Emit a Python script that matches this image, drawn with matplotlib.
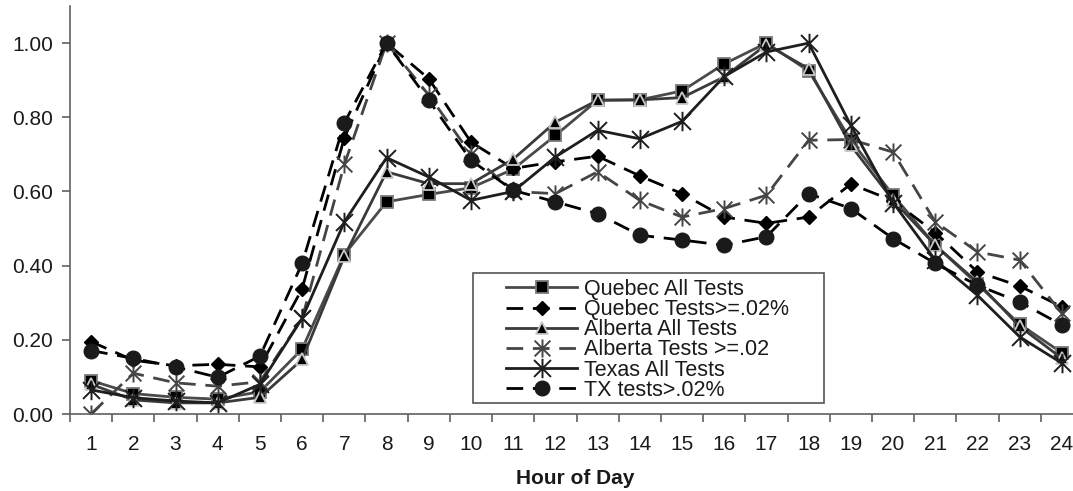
import matplotlib
matplotlib.use("Agg")
import matplotlib.pyplot as plt
from matplotlib.path import Path
from matplotlib.patches import Rectangle
import numpy as np

plt.rcParams['font.family'] = ['Liberation Sans', 'DejaVu Sans']

# Hour of day (categories)
hours = list(range(1, 25))

# Normalised hourly test counts per series
quebec_all = [0.09, 0.055, 0.045, 0.04, 0.06, 0.175, 0.43, 0.572, 0.592, 0.61, 0.66, 0.751,
              0.846, 0.847, 0.871, 0.944, 1.00, 0.925, 0.738, 0.59, 0.455, 0.350, 0.242, 0.165]
quebec_02 = [0.195, 0.145, 0.13, 0.134, 0.127, 0.338, 0.745, 1.00, 0.904, 0.733, 0.662, 0.680,
             0.695, 0.642, 0.594, 0.531, 0.514, 0.531, 0.620, 0.575, 0.489, 0.383, 0.345, 0.289]
alberta_all = [0.08, 0.038, 0.030, 0.030, 0.045, 0.147, 0.425, 0.653, 0.621, 0.621, 0.687, 0.787,
               0.846, 0.847, 0.853, 0.909, 0.996, 0.931, 0.724, 0.576, 0.455, 0.355, 0.236, 0.15]
alberta_02 = [0.0, 0.110, 0.084, 0.075, 0.087, 0.258, 0.673, 1.00, 0.86, 0.70, 0.60, 0.594,
              0.653, 0.576, 0.531, 0.554, 0.590, 0.738, 0.740, 0.706, 0.518, 0.437, 0.415, 0.271]
texas_all = [0.065, 0.044, 0.035, 0.030, 0.080, 0.258, 0.518, 0.691, 0.639, 0.576, 0.600, 0.693,
             0.765, 0.742, 0.789, 0.910, 0.976, 1.00, 0.778, 0.570, 0.415, 0.320, 0.208, 0.137]
texas_02 = [0.171, 0.150, 0.127, 0.099, 0.156, 0.406, 0.785, 1.00, 0.846, 0.684, 0.603, 0.572,
            0.540, 0.482, 0.469, 0.455, 0.478, 0.594, 0.554, 0.473, 0.406, 0.347, 0.302, 0.240]

labels = ["Quebec All Tests", "Quebec Tests>=.02%", "Alberta All Tests",
          "Alberta Tests >=.02", "Texas All Tests", "TX tests>.02%"]

# six-armed asterisk marker (X with a vertical bar)
star_verts = [(0, -1), (0, 1), (-0.87, -0.87), (0.87, 0.87), (-0.87, 0.87), (0.87, -0.87)]
star_codes = [Path.MOVETO, Path.LINETO] * 3
star = Path(star_verts, star_codes)

W, H = 1073, 491
fig = plt.figure(figsize=(W / 100, H / 100), dpi=100)
ax = fig.add_axes([70 / W, 1 - 414 / H, (1083 - 70) / W, (414 - 6) / H])

lw = 2.0
dash = (6, 3.5)
lines = []
lines += ax.plot(hours, quebec_all, color='#4a4a4a', lw=lw, marker='s', ms=8.5,
                 mfc='black', mec='#7a7a7a', mew=1.3)
lines += ax.plot(hours, quebec_02, color='black', lw=lw, dashes=dash, marker='D', ms=7.5,
                 mfc='black', mec='black')
lines += ax.plot(hours, alberta_all, color='#3a3a3a', lw=lw, marker='^', ms=9,
                 mfc='black', mec='#c8c8c8', mew=1.3)
lines += ax.plot(hours, alberta_02, color='#454545', lw=lw, dashes=dash, marker=star, ms=13,
                 mfc='none', mec='#454545', mew=1.4)
lines += ax.plot(hours, texas_all, color='#1e1e1e', lw=lw, marker=star, ms=14,
                 mfc='none', mec='#1e1e1e', mew=1.4)
lines += ax.plot(hours, texas_02, color='black', lw=lw, dashes=dash, marker='o', ms=10.5,
                 mfc='#1a1a1a', mec='#1a1a1a')

ax.set_xlim(0.5, 24.5)
ax.set_ylim(0, 1.1)

ax.set_yticks([0, 0.2, 0.4, 0.6, 0.8, 1.0])
ax.set_yticklabels([f"{v:.2f}" for v in [0, 0.2, 0.4, 0.6, 0.8, 1.0]])
ax.tick_params(axis='y', direction='out', length=6, width=1.2, color='#606060',
               labelsize=15, pad=6, labelcolor='#1a1a1a')

ax.set_xticks(np.arange(0.5, 25, 1))
ax.set_xticklabels([])
ax.set_xticks(hours, minor=True)
ax.set_xticklabels([str(h) for h in hours], minor=True)
ax.tick_params(axis='x', which='major', direction='out', length=6, width=1.2, color='#606060')
ax.tick_params(axis='x', which='minor', length=0, labelsize=15, pad=15, labelcolor='#1a1a1a')

for side in ('top', 'right'):
    ax.spines[side].set_visible(False)
for side in ('left', 'bottom'):
    ax.spines[side].set_color('#606060')
    ax.spines[side].set_linewidth(1.2)

fig.text(575 / W, 1 - 478 / H, "Hour of Day", ha='center', va='center',
         fontsize=15, fontweight='bold', color='#1a1a1a')

# legend box
fig.patches.append(Rectangle((473 / W, 1 - 403 / H), (824 - 473) / W, (403 - 273) / H,
                             transform=fig.transFigure, fill=False,
                             edgecolor='#555555', lw=1.2))
leg = fig.legend(lines, labels, loc='upper left', bbox_to_anchor=(506 / W, 1 - 279 / H),
                 frameon=False, fontsize=15.5, borderpad=0, borderaxespad=0,
                 handlelength=3.3, handletextpad=0.3, labelspacing=-0.04)
for t in leg.get_texts():
    t.set_color('#1a1a1a')

fig.savefig("out.png", dpi=100)
